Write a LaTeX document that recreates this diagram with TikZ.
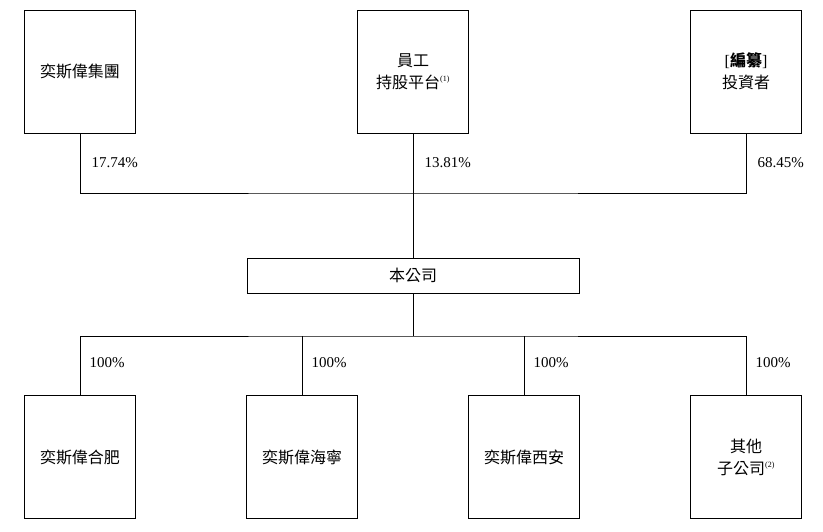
\documentclass[tikz,border=0pt]{standalone}
\usepackage{fontspec}
\setmainfont{Liberation Serif}
\newfontfamily\cjk{Noto Sans CJK TC}
\usetikzlibrary{positioning}
\begin{document}
\begin{tikzpicture}[x=1pt, y=-1pt,
    box/.style={draw, line width=0.8pt, minimum width=111pt, minimum height=123pt, align=center, font=\fontsize{16}{22}\selectfont\cjk, inner sep=0pt},
    pct/.style={font=\fontsize{15}{18}\selectfont, anchor=west},
    link/.style={line width=0.8pt}
]
\useasboundingbox (0,0) rectangle (823,532);

% Shareholders
\node[box] (Group) at (80,71.5) {奕斯偉集團};
\node[box] (Staff) at (413,71.5) {員工\\持股平台\textsuperscript{\fontsize{8}{8}\selectfont\rmfamily(1)}};
\node[box] (Invest) at (746,71.5) {{\rmfamily[}\textbf{編纂}{\rmfamily]}\\投資者};

% Company
\node[box, minimum width=332pt, minimum height=35pt] (Company) at (413,275.5) {本公司};

% Subsidiaries
\node[box] (Hefei) at (80,457) {奕斯偉合肥};
\node[box] (Haining) at (302,457) {奕斯偉海寧};
\node[box] (Xian) at (524,457) {奕斯偉西安};
\node[box] (Others) at (746,457) {其他\\子公司\textsuperscript{\fontsize{8}{8}\selectfont\rmfamily(2)}};

% Upper links
\coordinate (top) at (413,193);
\draw[link] (Group.south) |- (top) -| (Invest.south);
\draw[link] (Staff.south) -- (Company.north);
\node[pct] at (88,163) {17.74\%};
\node[pct] at (421,163) {13.81\%};
\node[pct] at (754,163) {68.45\%};

% Lower links
\coordinate (bus) at (413,336);
\draw[link] (Company.south) -- (bus);
\draw[link] (Hefei.north) |- (bus) -| (Others.north);
\draw[link] (Haining.north) -- (Haining.north |- bus);
\draw[link] (Xian.north) -- (Xian.north |- bus);
\foreach \n in {Hefei, Haining, Xian, Others}
  \node[pct] at ([xshift=6pt, yshift=32pt]\n.north) {100\%};
\end{tikzpicture}
\end{document}
